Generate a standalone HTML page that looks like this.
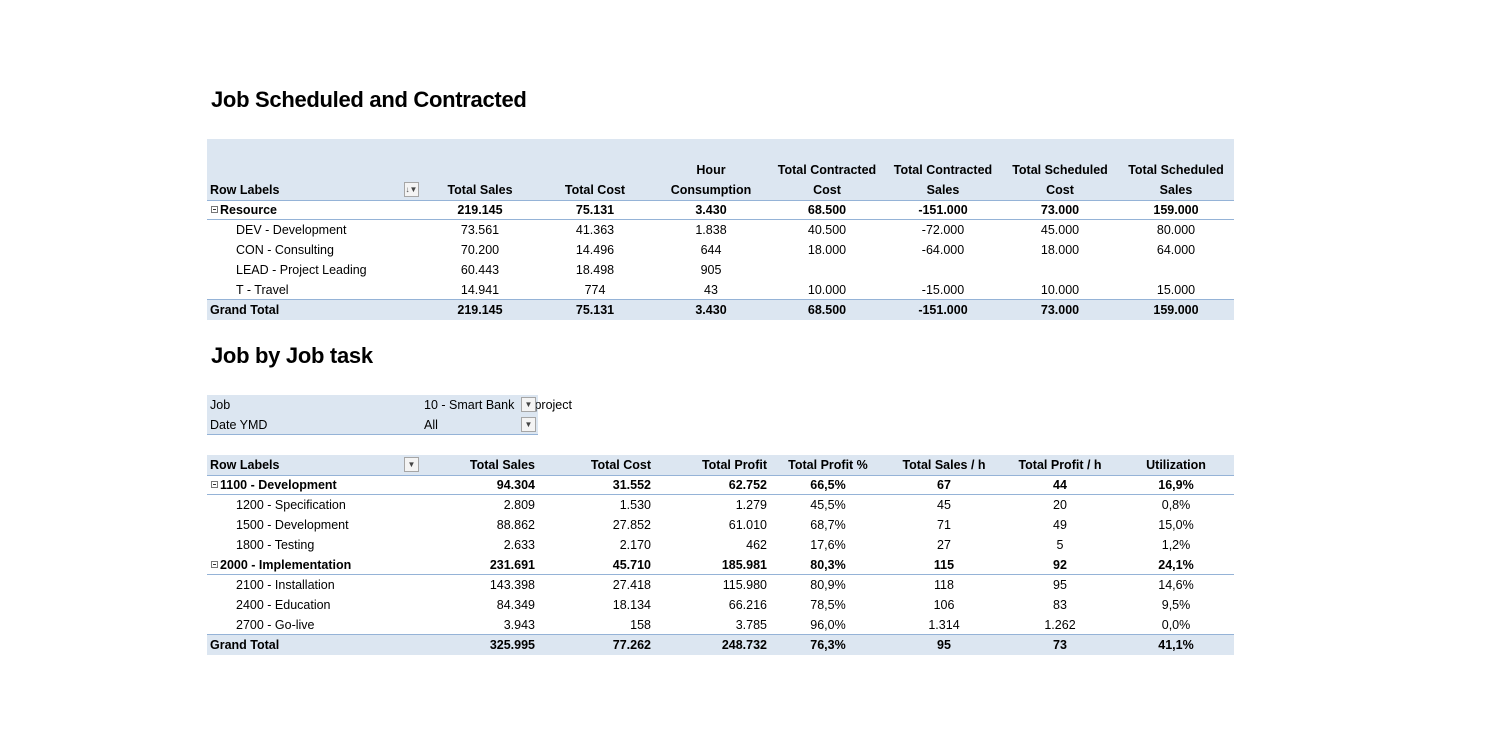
<!DOCTYPE html>
<html><head><meta charset="utf-8"><style>
body{margin:0;width:1500px;height:750px;background:#fff;position:relative;overflow:hidden;font-family:"Liberation Sans",Arial,sans-serif;font-size:12.5px;color:#000}
.a{position:absolute;white-space:nowrap;line-height:20px}
.t{font-size:22px;font-weight:bold;letter-spacing:-0.3px}
.b{font-weight:bold}
.fill{position:absolute;background:#dce6f1}
.ln{position:absolute;height:1px;background:#95b3d7}
.dd{position:absolute;width:15px;height:15px;border:1px solid #a6a6a6;background:#f4f4f4;box-sizing:border-box;font-size:8px;line-height:13px;text-align:center;color:#444}
.mn{display:inline-block;width:7px;height:7px;border:1px solid #777;box-sizing:border-box;margin-right:2px;position:relative;top:-1px;background:#fff}
.mn:after{content:"";position:absolute;left:1px;top:2px;width:3px;height:1px;background:#333}
</style></head><body>
<div class="a t" style="left:211px;top:90px">Job Scheduled and Contracted</div>
<div class="a t" style="left:211px;top:346px">Job by Job task</div>
<div class="fill" style="left:207px;top:139px;width:1027px;height:61px"></div>
<div class="ln" style="left:207px;top:200px;width:1027px"></div>
<div class="ln" style="left:207px;top:219px;width:1027px"></div>
<div class="fill" style="left:207px;top:300px;width:1027px;height:20px"></div>
<div class="ln" style="left:207px;top:299px;width:1027px"></div>
<div class="dd" style="left:404px;top:182px">↓▼</div>

<div class="fill" style="left:207px;top:395px;width:331px;height:40px"></div>
<div class="ln" style="left:207px;top:434px;width:331px"></div>
<div class="a" style="left:210px;top:395px">Job</div>
<div class="a" style="left:424px;top:395px">10 - Smart Bank &nbsp;&nbsp;&nbsp;l project</div>
<div class="dd" style="left:521px;top:397px">▼</div>
<div class="a" style="left:210px;top:415px">Date YMD</div>
<div class="a" style="left:424px;top:415px">All</div>
<div class="dd" style="left:521px;top:417px">▼</div>

<div class="fill" style="left:207px;top:455px;width:1027px;height:20px"></div>
<div class="ln" style="left:207px;top:475px;width:1027px"></div>
<div class="ln" style="left:207px;top:494px;width:1027px"></div>
<div class="ln" style="left:207px;top:574px;width:1027px"></div>
<div class="fill" style="left:207px;top:635px;width:1027px;height:20px"></div>
<div class="ln" style="left:207px;top:634px;width:1027px"></div>
<div class="dd" style="left:404px;top:457px">▼</div>

<div id="root"></div>
<script>
const root=document.getElementById('root');
function put(txt,x,y,align,bold,name){
  const d=document.createElement('div');
  d.className='a'+(bold?' b':'');
  d.textContent=txt;
  d.style.top=y+'px';
  if(align==='l'){d.style.left=x+'px';}
  else if(align==='r'){d.style.right=(1500-x)+'px';}
  else {d.style.left=(x-60)+'px';d.style.width='120px';d.style.textAlign='center';}
  
  
  root.appendChild(d);
  return d;
}
// Table 1
const t1cols=[480,595,711,827,943,1060,1176];
const t1h1=['','','Hour','Total Contracted','Total Contracted','Total Scheduled','Total Scheduled'];
const t1h2=['Total Sales','Total Cost','Consumption','Cost','Sales','Cost','Sales'];
put('Row Labels',210,180,'l',true,'row-labels-header');
t1cols.forEach((x,i)=>{if(t1h1[i])put(t1h1[i],x,160,'c',true,'col-header-top');put(t1h2[i],x,180,'c',true,'col-header');});
const t1rows=[
 ['Resource',1,true,['219.145','75.131','3.430','68.500','-151.000','73.000','159.000']],
 ['DEV - Development',0,false,['73.561','41.363','1.838','40.500','-72.000','45.000','80.000']],
 ['CON - Consulting',0,false,['70.200','14.496','644','18.000','-64.000','18.000','64.000']],
 ['LEAD - Project Leading',0,false,['60.443','18.498','905','','','','']],
 ['T - Travel',0,false,['14.941','774','43','10.000','-15.000','10.000','15.000']],
 ['Grand Total',2,true,['219.145','75.131','3.430','68.500','-151.000','73.000','159.000']]];
t1rows.forEach((r,ri)=>{
  const y=200+ri*20;
  let lab;
  if(r[1]===1){lab=put('',211,y,'l',true,'group-row-label');lab.innerHTML='<span class="mn"></span>'+r[0];}
  else if(r[1]===2)lab=put(r[0],210,y,'l',true,'grand-total-label');
  else lab=put(r[0],236,y,'l',false,'row-label');
  r[3].forEach((v,i)=>{if(v)put(v,t1cols[i],y,'c',r[2],'cell-value');});
});
// Table 2
const t2cols=[[535,'r'],[651,'r'],[767,'r'],[828,'c'],[944,'c'],[1060,'c'],[1176,'c']];
const t2head=['Total Sales','Total Cost','Total Profit','Total Profit %','Total Sales / h','Total Profit / h','Utilization'];
put('Row Labels',210,455,'l',true,'row-labels-header');
t2cols.forEach((c,i)=>put(t2head[i],c[0]+(c[1]==='r'?0:0),455,c[1],true,'col-header'));
const t2rows=[
 ['1100 - Development',1,['94.304','31.552','62.752','66,5%','67','44','16,9%']],
 ['1200 - Specification',0,['2.809','1.530','1.279','45,5%','45','20','0,8%']],
 ['1500 - Development',0,['88.862','27.852','61.010','68,7%','71','49','15,0%']],
 ['1800 - Testing',0,['2.633','2.170','462','17,6%','27','5','1,2%']],
 ['2000 - Implementation',1,['231.691','45.710','185.981','80,3%','115','92','24,1%']],
 ['2100 - Installation',0,['143.398','27.418','115.980','80,9%','118','95','14,6%']],
 ['2400 - Education',0,['84.349','18.134','66.216','78,5%','106','83','9,5%']],
 ['2700 - Go-live',0,['3.943','158','3.785','96,0%','1.314','1.262','0,0%']],
 ['Grand Total',2,['325.995','77.262','248.732','76,3%','95','73','41,1%']]];
t2rows.forEach((r,ri)=>{
  const y=475+ri*20;const bold=r[1]>0;
  let lab;
  if(r[1]===1){lab=put('',211,y,'l',true,'group-row-label');lab.innerHTML='<span class="mn"></span>'+r[0];}
  else if(r[1]===2)lab=put(r[0],210,y,'l',true,'grand-total-label');
  else lab=put(r[0],236,y,'l',false,'row-label');
  r[2].forEach((v,i)=>put(v,t2cols[i][0],y,t2cols[i][1],bold,'cell-value'));
});
</script>
</body></html>
